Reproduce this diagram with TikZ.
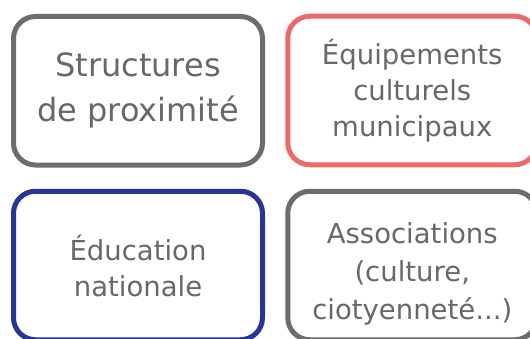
\documentclass[tikz,border=0pt]{standalone}
\usepackage{fontspec}
\setmainfont{DejaVu Sans}
\usepackage{tikz}
\usepackage{xcolor}

\definecolor{boxgray}{HTML}{6D6D6D}
\definecolor{boxred}{HTML}{EE6A6A}
\definecolor{boxblue}{HTML}{283592}
\definecolor{txtgray}{HTML}{686868}

\begin{document}
\begin{tikzpicture}[x=1pt,y=1pt,
  card/.style={draw=#1,line width=5pt,rounded corners=22pt,fill=white,
    minimum width=249pt,minimum height=148.5pt,inner sep=0pt,
    align=center,text=txtgray,font=\fontsize{27.5}{36}\selectfont}]
\useasboundingbox (0,0) rectangle (530,338);
\clip (0,0) rectangle (530,338);

\node[card=boxgray,font=\fontsize{32}{45}\selectfont] (struct) at (138,247.25) {Structures\\de proximité};
\node[card=boxred] (equip) at (412.25,247.5) {Équipements\\culturels\\municipaux};

\node[card=boxblue] (educ) at (138,72.5) {Éducation\\nationale};
\node[card=boxgray,font=\fontsize{27.5}{38}\selectfont,text height=113pt,text depth=5pt] (assoc) at (412.25,72.5) {Associations\\(culture,\\ciotyenneté...)};
\end{tikzpicture}
\end{document}
